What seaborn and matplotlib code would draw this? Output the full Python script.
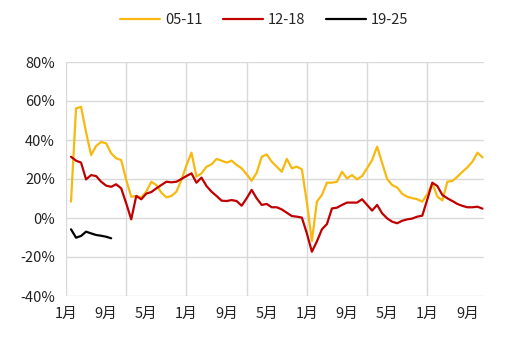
import numpy as np
import pandas as pd
import matplotlib
matplotlib.use("Agg")
import matplotlib.pyplot as plt
import seaborn as sns

# Month index 0 = January of the first year; each series runs over 7 years (84 months)
months_total = 84
start_month = 1  # data begin in February

yoy_05_11 = [8.4, 56.2, 57.0, 44.0, 32.3, 36.9, 39.0, 38.3, 33.2, 30.6, 29.7,
             19.5, 10.9, 11.3, 10.5, 13.5, 18.6, 16.9, 13.0, 10.6, 11.3, 13.5, 19.5,
             27.0, 33.5, 21.2, 22.9, 26.3, 27.5, 30.3, 29.4, 28.4, 29.4, 27.2, 25.5,
             22.4, 19.1, 23.2, 31.4, 32.6, 28.9, 26.3, 23.7, 30.3, 25.5, 26.3, 25.0,
             8.0, -11.8, 8.4, 11.8, 18.1, 18.1, 18.6, 23.7, 20.3, 22.0, 19.8, 21.5,
             25.5, 29.7, 36.6, 28.2, 20.0, 16.9, 15.6, 12.4, 10.9, 10.2, 9.6, 8.4,
             12.2, 17.8, 11.0, 9.0, 18.6, 19.0, 21.2, 23.7, 26.0, 28.9, 33.5, 31.1]

yoy_12_18 = [31.4, 29.4, 28.4, 19.8, 22.0, 21.5, 18.6, 16.6, 16.0, 17.3, 15.2,
             7.5, -0.7, 11.3, 9.6, 12.5, 13.3, 15.2, 16.9, 18.6, 18.3, 18.6, 20.0,
             21.5, 22.9, 18.1, 20.7, 16.4, 13.5, 11.3, 8.9, 8.7, 9.2, 8.7, 6.3,
             10.1, 14.4, 10.1, 6.7, 7.2, 5.5, 5.5, 4.4, 2.7, 1.0, 0.7, 0.2,
             -7.9, -17.3, -12.0, -5.8, -3.1, 4.9, 5.3, 6.7, 7.9, 7.9, 7.9, 9.6,
             6.7, 3.8, 6.7, 2.4, -0.2, -1.9, -2.7, -1.4, -0.7, -0.3, 0.7, 1.2,
             9.5, 18.1, 16.4, 11.8, 10.1, 8.7, 7.2, 6.2, 5.5, 5.5, 5.8, 4.8]

yoy_19_25 = [-5.8, -10.1, -9.2, -7.0, -7.9, -8.7, -9.1, -9.6, -10.4]

series_names = ["05-11", "12-18", "19-25"]
series_values = [yoy_05_11, yoy_12_18, yoy_19_25]
series_colors = ["#F7B90F", "#C00000", "#000000"]

tick_positions = list(range(0, months_total, 8))
tick_labels = ["1月", "9月", "5月", "1月", "9月", "5月", "1月", "9月", "5月", "1月", "9月"]
y_ticks = [-40, -20, 0, 20, 40, 60, 80]

frames = []
for name, vals in zip(series_names, series_values):
    frames.append(pd.DataFrame({
        "month": np.arange(start_month, start_month + len(vals)),
        "yoy": vals,
        "series": name,
    }))
df = pd.concat(frames, ignore_index=True)

sns.set_style("white")
plt.rcParams["font.family"] = ["Noto Sans CJK SC", "DejaVu Sans"]

fig = plt.figure(figsize=(5.24, 3.43), dpi=100)
ax = fig.add_axes([66 / 524, 1 - 296 / 343, (484 - 66) / 524, (296 - 62) / 343])

grid_color = "#D9D9D9"
for yv in y_ticks:
    ax.axhline(yv, color=grid_color, lw=1.0, zorder=0)
for xv in range(0, months_total, 12):
    ax.axvline(xv, color=grid_color, lw=1.0, zorder=0)

sns.lineplot(data=df, x="month", y="yoy", hue="series", hue_order=series_names,
             palette=dict(zip(series_names, series_colors)), linewidth=1.6,
             ax=ax, legend=True)

ax.set_xlim(0, 83.3)
ax.set_ylim(-40, 80)
ax.set_xticks(tick_positions)
ax.set_xticklabels(tick_labels)
ax.set_yticks(y_ticks)
ax.set_yticklabels([f"{v}%" for v in y_ticks])
ax.tick_params(axis="both", length=0, labelsize=10.5, colors="#222222")
ax.tick_params(axis="y", pad=8)
ax.tick_params(axis="x", pad=8)
ax.set_xlabel("")
ax.set_ylabel("")
for side in ["top", "right", "left", "bottom"]:
    ax.spines[side].set_visible(False)

sns.move_legend(ax, "center", bbox_to_anchor=(0.474, 1.18), ncol=3, frameon=False,
                title=None, fontsize=10.5, handlelength=2.75, handletextpad=0.35,
                columnspacing=1.4)

fig.savefig("out.png", dpi=100)
